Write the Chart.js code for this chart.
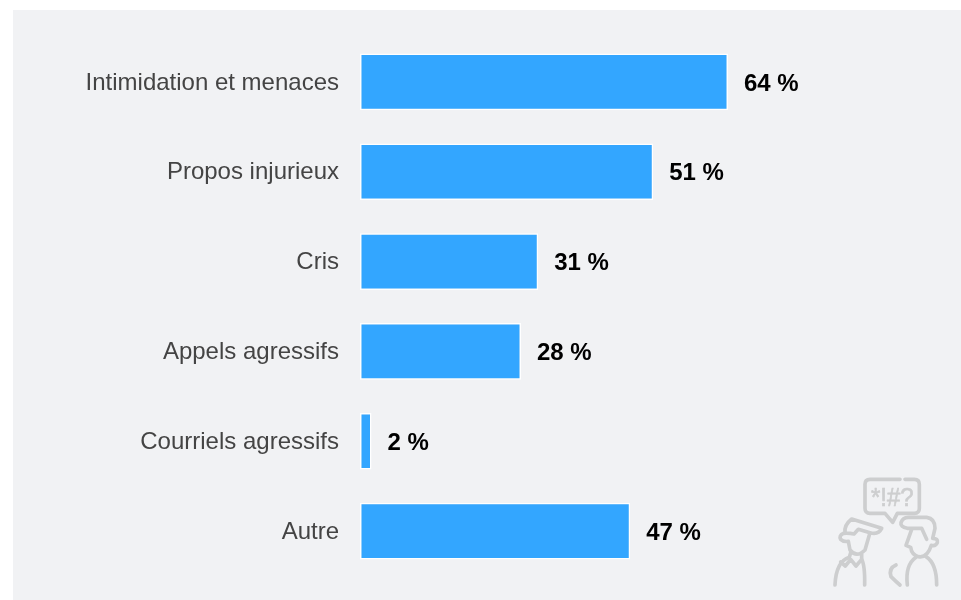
<!DOCTYPE html>
<html lang="fr">
<head>
<meta charset="utf-8">
<title>Formes de violence</title>
<script src="https://cdn.jsdelivr.net/npm/chart.js@4"></script>
<style>
  html, body { margin: 0; background: #fff; }
  #panel { position: absolute; left: 13px; top: 10px; width: 948px; height: 590px; background: #f1f2f4; }
  #wrap { position: absolute; left: 0; top: 0; width: 961px; height: 600px; }
  #icon { position: absolute; left: 820px; top: 470px; }
</style>
</head>
<body>
<div id="panel"></div>
<div id="wrap"><canvas id="barChart" width="961" height="600"></canvas></div>
<svg id="icon" width="141" height="130" viewBox="0 0 423 390" fill="none" stroke="#cdcecf" stroke-width="11" stroke-linecap="round" stroke-linejoin="round">
  <path d="M240,28 H150 Q135,28 135,43 V115 Q135,130 150,130 H195 L218,157 L232,130 H283 Q298,130 298,115 V43 Q298,28 283,28 H255"/>
  <text x="153" y="108" textLength="128" lengthAdjust="spacingAndGlyphs" font-family="Liberation Sans, Arial, sans-serif" font-size="76" fill="#cdcecf" stroke="#cdcecf" stroke-width="2">*!#?</text>
  <!-- personne de gauche -->
  <path d="M75,188 Q72,165 95,147 L185,175 Q175,195 150,188 L115,178 L102,192 Q85,188 70,190 Q56,197 62,208 Q70,216 85,214 L90,240 Q110,265 135,240 L148,195"/>
  <path d="M92,248 L88,262 Q48,275 45,345"/>
  <path d="M125,252 L125,268 Q135,285 134,345"/>
  <path d="M62,276 L76,288 L92,268 L108,288 L125,268"/>
  <!-- personne de droite -->
  <path d="M262,175 Q240,170 243,158 Q248,142 265,142 H320 Q345,145 345,175 L338,205 Q355,205 352,218 Q347,230 334,226 Q322,265 295,260 Q275,255 272,232 L258,226 L275,178 M262,175 H305 L320,208"/>
  <path d="M288,262 Q255,285 262,345"/>
  <path d="M318,260 Q350,280 350,345"/>
  <path d="M228,285 Q205,295 213,320 Q228,335 240,345"/>
</svg>
<script>
const categories = ["Intimidation et menaces", "Propos injurieux", "Cris", "Appels agressifs", "Courriels agressifs", "Autre"];
const values = [64, 51, 31, 28, 2, 47];

// etiquettes en gras au bout des barres
const valueLabels = {
  id: "valueLabels",
  afterDatasetsDraw(chart) {
    const c = chart.ctx;
    const bars = chart.getDatasetMeta(0).data;
    c.save();
    c.font = "bold 24px 'Liberation Sans', Arial, sans-serif";
    c.fillStyle = "#000";
    c.textAlign = "left";
    c.textBaseline = "middle";
    bars.forEach((bar, i) => {
      c.fillText(values[i] + " %", bar.x + 16, bar.y + 2);
    });
    c.restore();
  },
};

const ctx = document.getElementById("barChart").getContext("2d");
const chart = new Chart(ctx, {
  type: "bar",
  data: {
    labels: categories,
    datasets: [
      {
        data: values,
        backgroundColor: "#33a6ff",
        borderColor: "#ffffff",
        borderWidth: 1.5,
        borderSkipped: false,
        categoryPercentage: 1,
        barPercentage: 0.63,
      },
    ],
  },
  options: {
    indexAxis: "y",
    responsive: false,
    animation: false,
    layout: { padding: { top: 37, bottom: 24, right: 26, left: 0 } },
    plugins: {
      tooltip: { enabled: false },
      legend: { display: false },
    },
    scales: {
      x: { min: 0, max: 100, display: false },
      y: {
        // le padding des ticks s'ajoute sinon en haut et en bas de l'axe
        afterFit(scale) {
          scale.width = 360;
          scale.paddingTop = 0;
          scale.paddingBottom = 0;
        },
        grid: { display: false, drawTicks: false },
        border: { display: false },
        ticks: {
          color: "#444",
          padding: 21,
          labelOffset: 1,
          font: { family: "'Liberation Sans', Arial, sans-serif", size: 24 },
        },
      },
    },
  },
  plugins: [valueLabels],
});
</script>
</body>
</html>
